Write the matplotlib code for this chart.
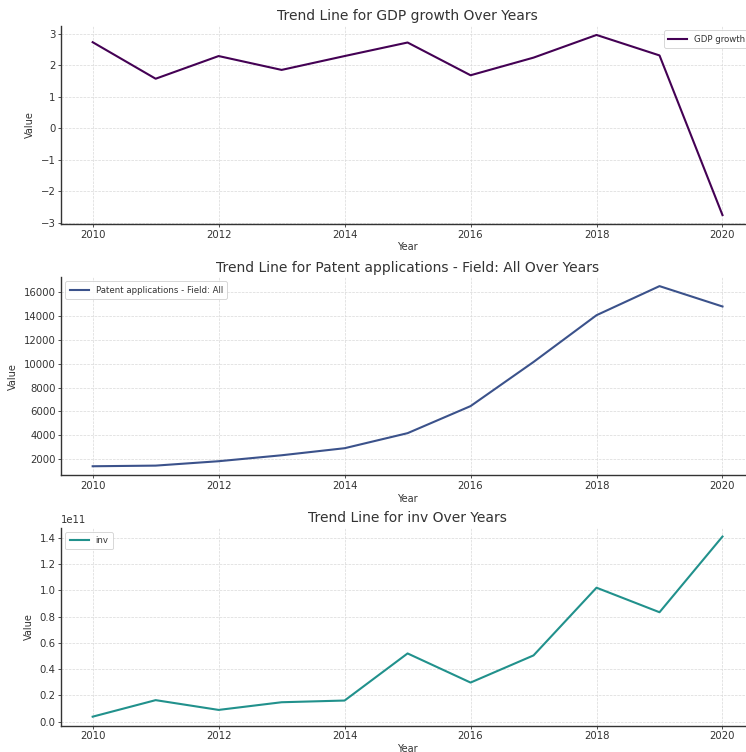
import matplotlib
matplotlib.use("Agg")
import matplotlib.pyplot as plt

years = [2010, 2011, 2012, 2013, 2014, 2015, 2016, 2017, 2018, 2019, 2020]
gdp_growth = [2.73, 1.57, 2.29, 1.85, 2.29, 2.72, 1.68, 2.24, 2.96, 2.31, -2.76]
patent_apps = [1376, 1430, 1800, 2300, 2894, 4160, 6436, 10150, 14083, 16530, 14816]
inv = [0.038e11, 0.164e11, 0.0895e11, 0.148e11, 0.161e11, 0.520e11,
       0.298e11, 0.505e11, 1.021e11, 0.834e11, 1.411e11]

series_names = ["GDP growth", "Patent applications - Field: All", "inv"]
series_values = [gdp_growth, patent_apps, inv]
series_colors = ["#440154", "#3b528b", "#21918c"]
legend_locs = ["upper right", "upper left", "upper left"]

text_color = "#333333"
plt.rcParams.update({
    "font.family": "DejaVu Sans",
    "text.color": text_color,
    "axes.labelcolor": text_color,
    "xtick.color": text_color,
    "ytick.color": text_color,
    "axes.edgecolor": "#333333",
})

fig = plt.figure(figsize=(7.46, 7.52), dpi=100)
bottoms = [0.702, 0.368, 0.035]
for name, vals, color, loc, b in zip(series_names, series_values, series_colors,
                                     legend_locs, bottoms):
    ax = fig.add_axes([0.082, b, 0.9287, 0.2635])
    ax.plot(years, vals, color=color, linewidth=1.5, label=name)
    ax.set_title(f"Trend Line for {name} Over Years", fontsize=10, pad=4)
    ax.set_xlabel("Year", fontsize=7, labelpad=2)
    ax.set_ylabel("Value", fontsize=7, labelpad=4)
    ax.tick_params(axis="both", labelsize=7.3, length=2, width=0.6, pad=2)
    ax.grid(True, linestyle="--", linewidth=0.5, color="#d9d9d9")
    ax.set_axisbelow(True)
    for side in ("top", "right"):
        ax.spines[side].set_visible(False)
    for side in ("left", "bottom"):
        ax.spines[side].set_linewidth(1.0)
    ax.yaxis.get_offset_text().set_fontsize(7.3)
    leg = ax.legend(loc=loc, fontsize=6.2, frameon=True, fancybox=True,
                    framealpha=0.9, borderpad=0.5, handlelength=2.2)
    leg.get_frame().set_edgecolor("#cccccc")
    leg.get_frame().set_linewidth(0.6)

fig.savefig("out.png", dpi=100)
